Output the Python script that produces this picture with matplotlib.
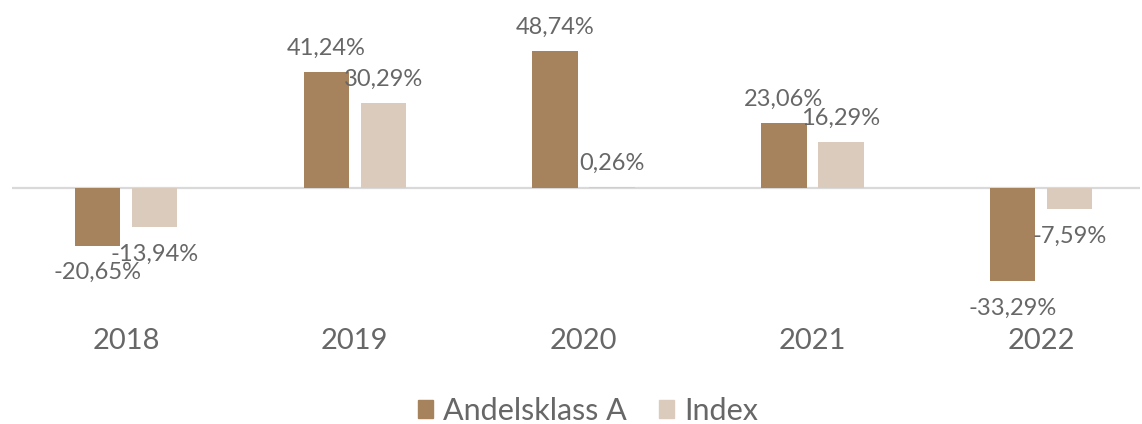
import numpy as np
import matplotlib.pyplot as plt
from matplotlib.patches import Patch

plt.rcParams['font.family'] = ['Lato', 'DejaVu Sans']

years = ['2018', '2019', '2020', '2021', '2022']
andelsklass_a = [-20.65, 41.24, 48.74, 23.06, -33.29]
index_vals = [-13.94, 30.29, 0.26, 16.29, -7.59]
series_names = ['Andelsklass A', 'Index']

col_a = '#A6835D'
col_idx = '#DBCBBC'
txt_col = '#676767'
fw = 'normal'

W, H = 1142, 424
fig = plt.figure(figsize=(W / 100, H / 100), dpi=100)
# axes in pixel terms: left 12, right 1140, top 0, bottom 300
ax = fig.add_axes([12 / W, 1 - 300 / H, 1128 / W, 300 / H])

x = np.arange(len(years))
px_per_unit = 228.75
bw = 45.5 / px_per_unit
off = 28.5 / px_per_unit

ax.bar(x - off, andelsklass_a, bw, color=col_a, zorder=2)
ax.bar(x + off, index_vals, bw, color=col_idx, zorder=2)

ax.set_xlim(-114 / px_per_unit, 4 + 99 / px_per_unit)
px_per_pct = 2.804
ax.set_ylim(-(300 - 187.7) / px_per_pct, 187.7 / px_per_pct)
ax.axhline(0, color='#D9D9D9', lw=1.6, zorder=1)

def label(xpos, v):
    s = f'{v:.2f}%'.replace('.', ',')
    if v >= 0:
        ax.annotate(s, (xpos, v), xytext=(0, 12.5), textcoords='offset points',
                    ha='center', va='baseline', fontsize=17, color=txt_col,
                    fontweight=fw, zorder=3)
    else:
        ax.annotate(s, (xpos, v), xytext=(0, -12), textcoords='offset points',
                    ha='center', va='top', fontsize=17, color=txt_col,
                    fontweight=fw, zorder=3)

for i in range(len(years)):
    label(x[i] - off, andelsklass_a[i])
    label(x[i] + off, index_vals[i])

ax.set_xticks(x)
ax.set_xticklabels(years, fontsize=21, color=txt_col, fontweight=fw)
ax.tick_params(axis='x', length=0, pad=20)
ax.set_yticks([])
for sp in ax.spines.values():
    sp.set_visible(False)

handles = [Patch(color=col_a), Patch(color=col_idx)]
leg = fig.legend(handles, series_names, loc='center',
                 bbox_to_anchor=(0.5 + 17 / W, 13 / H),
                 ncol=2, frameon=False, handlelength=0.5, handleheight=0.5,
                 handletextpad=0.33, columnspacing=1.05,
                 prop={'size': 22, 'weight': fw})
for t in leg.get_texts():
    t.set_color(txt_col)

fig.savefig('out.png', dpi=100)
